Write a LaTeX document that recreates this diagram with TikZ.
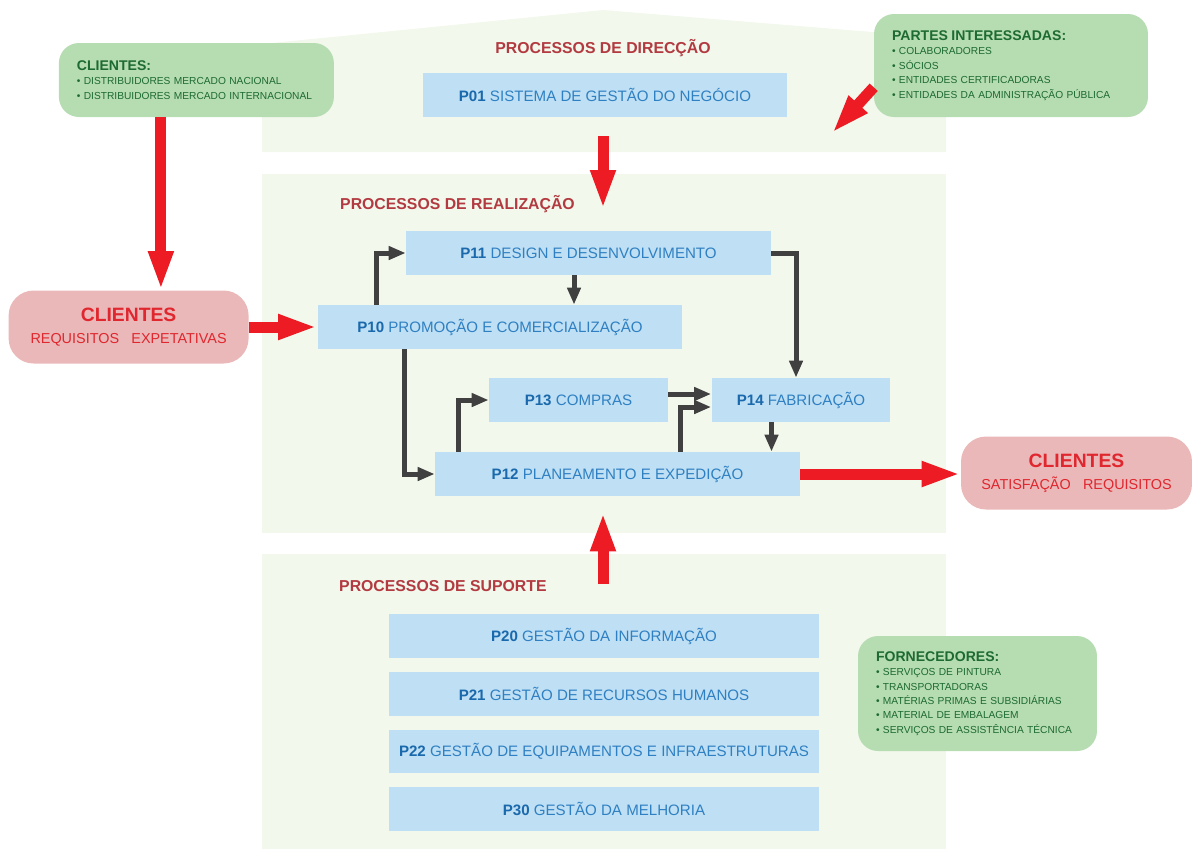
\documentclass[tikz,border=0pt]{standalone}
\usepackage{fontspec}
\setmainfont{Liberation Sans}
\usetikzlibrary{arrows.meta,positioning}

\definecolor{paleGreen}{HTML}{F2F8EC}
\definecolor{boxBlue}{HTML}{BEDFF4}
\definecolor{textBlue}{HTML}{2F80C2}
\definecolor{pNumBlue}{HTML}{1A69AC}
\definecolor{titleRed}{HTML}{B23A40}
\definecolor{greenBox}{HTML}{B6DCB2}
\definecolor{greenText}{HTML}{1D6A32}
\definecolor{pinkBox}{HTML}{EAB8B8}
\definecolor{pinkText}{HTML}{E0262E}
\definecolor{arrowRed}{HTML}{ED1C24}
\definecolor{arrowDark}{HTML}{404040}

\newcommand{\pnum}[1]{\textbf{\color{pNumBlue}#1}}
\newcommand{\ghead}[1]{{\fontsize{8}{8.2}\selectfont\bfseries #1}}

\tikzstyle{area} = [fill=paleGreen]
\tikzstyle{process} = [rectangle, minimum width=7.3cm, minimum height=0.88cm, text centered, fill=boxBlue, text=textBlue, font=\fontsize{8.6}{10}\selectfont]
\tikzstyle{processs} = [process, minimum width=3.58cm]
\tikzstyle{processl} = [process, minimum width=8.62cm]
\tikzstyle{title} = [text=titleRed, font=\fontsize{9}{11}\selectfont\bfseries]
\tikzstyle{parte} = [rectangle, rounded corners=0.4cm, fill=greenBox, text=greenText, align=left, inner xsep=0.36cm, font=\fontsize{5.8}{8.2}\selectfont]
\tikzstyle{cliente} = [rectangle, rounded corners=0.5cm, minimum height=1.46cm, fill=pinkBox, text=pinkText, align=center, font=\fontsize{8.2}{12.5}\selectfont]
\tikzstyle{redarrow} = [line width=0.22cm, draw=arrowRed, -{Triangle[length=0.78cm,width=0.46cm]}]
\tikzstyle{arrow} = [line width=0.1cm, draw=arrowDark, -{Triangle[length=0.34cm,width=0.26cm]}]

\begin{document}
\begin{tikzpicture}[x=0.02cm, y=-0.02cm, node distance=1.155cm]
		\useasboundingbox (0,0) rectangle (1193,850);
		\fill [area] (262,152) -- (262,44) -- (603,10) -- (946,38) -- (946,152) -- cycle;
		\fill [area] (262,174) rectangle (946,533);
		\fill [area] (262,554) rectangle (946,849);
		
		\node (tDireccao) [title] at (603,48) {PROCESSOS DE DIRECÇÃO};
		\node (tRealizacao) [title, anchor=west] at (334,204) {PROCESSOS DE REALIZAÇÃO};
		\node (tSuporte) [title, anchor=west] at (333,586) {PROCESSOS DE SUPORTE};
		
		\node (p01) [process] at (605,95) {\pnum{P01} SISTEMA DE GESTÃO DO NEGÓCIO};
		\node (p11) [process] at (588.5,253) {\pnum{P11} DESIGN E DESENVOLVIMENTO};
		\node (p10) [process] at (500,327) {\pnum{P10} PROMOÇÃO E COMERCIALIZAÇÃO};
		\node (p13) [processs] at (578.5,400) {\pnum{P13} COMPRAS};
		\node (p14) [processs] at (801,400) {\pnum{P14} FABRICAÇÃO};
		\node (p12) [process] at (617.5,474) {\pnum{P12} PLANEAMENTO E EXPEDIÇÃO};
		\node (p20) [processl] at (604,636) {\pnum{P20} GESTÃO DA INFORMAÇÃO};
		\node (p21) [processl, below of=p20] {\pnum{P21} GESTÃO DE RECURSOS HUMANOS};
		\node (p22) [processl, below of=p21] {\pnum{P22} GESTÃO DE EQUIPAMENTOS E INFRAESTRUTURAS};
		\node (p30) [processl, below of=p22] {\pnum{P30} GESTÃO DA MELHORIA};
		
		\node (clientesTop) [parte, minimum width=5.5cm, minimum height=1.48cm, text width=4.78cm] at (196.4,80) {\ghead{CLIENTES:}\\ • DISTRIBUIDORES MERCADO NACIONAL\\ • DISTRIBUIDORES MERCADO INTERNACIONAL};
		\node (partes) [parte, minimum width=5.48cm, minimum height=2.06cm, text width=4.76cm] at (1011,65.5) {\ghead{PARTES INTERESSADAS:}\\ • COLABORADORES\\ • SÓCIOS\\ • ENTIDADES CERTIFICADORAS\\ • ENTIDADES DA ADMINISTRAÇÃO PÚBLICA};
		\node (fornecedores) [parte, minimum width=4.78cm, minimum height=2.3cm, text width=4.06cm] at (977.5,693.5) {\ghead{FORNECEDORES:}\\ • SERVIÇOS DE PINTURA\\ • TRANSPORTADORAS\\ • MATÉRIAS PRIMAS E SUBSIDIÁRIAS\\ • MATERIAL DE EMBALAGEM\\ • SERVIÇOS DE ASSISTÊNCIA TÉCNICA};
		
		\node (clientesReq) [cliente, minimum width=4.8cm] at (128.6,327) {{\fontsize{11}{12}\selectfont\bfseries CLIENTES}\\ REQUISITOS\hspace{7pt}EXPETATIVAS};
		\node (clientesSat) [cliente, minimum width=4.62cm] at (1076.5,473) {{\fontsize{11}{12}\selectfont\bfseries CLIENTES}\\ SATISFAÇÃO\hspace{7pt}REQUISITOS};
		
		\coordinate (realTop) at (603,209);
		\coordinate (supTail) at (603,584);
		\coordinate (partesTip) at (832,133);
		
		\draw [redarrow, shorten <=0.38cm] (p01.south -| realTop) -- (realTop);
		\draw [redarrow, shorten >=0.32cm] (supTail) -- (p12.south -| supTail);
		\draw [redarrow] ([xshift=-0.71cm]clientesTop.south) -- ([xshift=-0.71cm]clientesTop.south |- clientesReq.north);
		\draw [redarrow] (partes.189) -- (partesTip);
		\draw [redarrow] (clientesReq.east) -- (clientesReq.east -| p10.west);
		\draw [redarrow] (p12.east) -- (p12.east -| clientesSat.west);
		
		\draw [arrow] ([xshift=1.19cm]p10.north west) |- (p11.west);
		\draw [arrow] ([xshift=-0.29cm]p11.south) -- ([xshift=-0.29cm]p11.south |- p10.north);
		\draw [arrow] (p11.east) -| ([xshift=-0.1cm]p14.north);
		\draw [arrow] ([xshift=1.75cm]p10.south west) |- (p12.west);
		\draw [arrow] ([xshift=0.48cm]p12.north west) |- (p13.west);
		\draw [arrow] ([yshift=0.12cm]p13.east) -- ([yshift=0.12cm]p14.west);
		\draw [arrow] ([xshift=1.27cm]p12.north) |- ([yshift=-0.14cm]p14.west);
		\draw [arrow] ([xshift=-0.59cm]p14.south) -- ([xshift=-0.59cm]p14.south |- p12.north);
	
	\end{tikzpicture}
\end{document}
